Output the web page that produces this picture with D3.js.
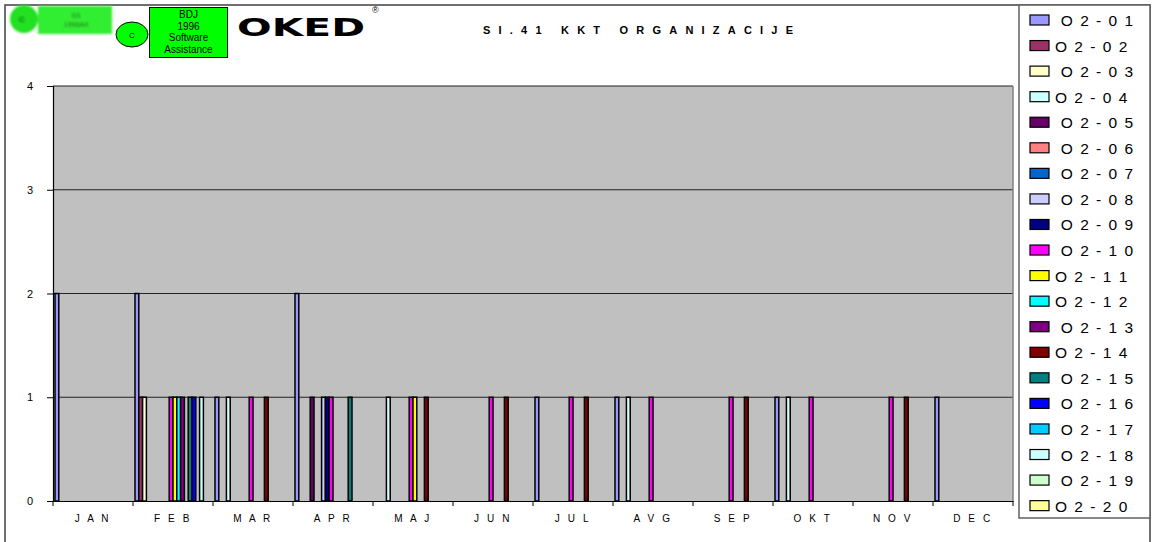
<!DOCTYPE html>
<html><head><meta charset="utf-8">
<script src="https://cdn.jsdelivr.net/npm/d3@7"></script>
<style>
body{margin:0;background:#fff;}
svg{display:block;font-family:"Liberation Sans",Arial,sans-serif;}
</style></head><body>
<svg id="chart" width="1167" height="542"></svg>
<script>
const months = ["JAN","FEB","MAR","APR","MAJ","JUN","JUL","AVG","SEP","OKT","NOV","DEC"];
const seriesNames = ["O2-01","O2-02","O2-03","O2-04","O2-05","O2-06","O2-07","O2-08","O2-09","O2-10",
                     "O2-11","O2-12","O2-13","O2-14","O2-15","O2-16","O2-17","O2-18","O2-19","O2-20"];
const legendLabels = [" O 2 - 0 1","O 2 - 0 2"," O 2 - 0 3","O 2 - 0 4"," O 2 - 0 5"," O 2 - 0 6"," O 2 - 0 7",
                      " O 2 - 0 8"," O 2 - 0 9"," O 2 - 1 0","O 2 - 1 1","O 2 - 1 2"," O 2 - 1 3","O 2 - 1 4",
                      " O 2 - 1 5"," O 2 - 1 6"," O 2 - 1 7"," O 2 - 1 8"," O 2 - 1 9","O 2 - 2 0"];
const yTicks = [0,1,2,3,4];
const title = "SI.41 KKT ORGANIZACIJE";

// values per series, one per month (JAN..DEC)
const o201 = [2,2,1,2,0,0,1,1,0,1,0,1];
const o202 = [0,1,0,0,0,0,0,0,0,0,0,0];
const o203 = [0,1,0,0,0,0,0,0,0,0,0,0];
const o204 = [0,0,1,0,1,0,0,1,0,1,0,0];
const o205 = [0,0,0,1,0,0,0,0,0,0,0,0];
const o206 = [0,0,0,0,0,0,0,0,0,0,0,0];
const o207 = [0,0,0,0,0,0,0,0,0,0,0,0];
const o208 = [0,0,0,1,0,0,0,0,0,0,0,0];
const o209 = [0,0,0,1,0,0,0,0,0,0,0,0];
const o210 = [0,1,1,1,1,1,1,1,1,1,1,0];
const o211 = [0,1,0,0,1,0,0,0,0,0,0,0];
const o212 = [0,1,0,0,0,0,0,0,0,0,0,0];
const o213 = [0,1,0,0,0,0,0,0,0,0,0,0];
const o214 = [0,0,1,0,1,1,1,0,1,0,1,0];
const o215 = [0,1,0,1,0,0,0,0,0,0,0,0];
const o216 = [0,1,0,0,0,0,0,0,0,0,0,0];
const o217 = [0,0,0,0,0,0,0,0,0,0,0,0];
const o218 = [0,1,0,0,0,0,0,0,0,0,0,0];
const o219 = [0,0,0,0,0,0,0,0,0,0,0,0];
const o220 = [0,0,0,0,0,0,0,0,0,0,0,0];
const seriesValues = [o201,o202,o203,o204,o205,o206,o207,o208,o209,o210,
                      o211,o212,o213,o214,o215,o216,o217,o218,o219,o220];

const colors = ["#9999FF","#993366","#FFFFCC","#CCFFFF","#660066","#FF8080","#0066CC","#CCCCFF","#000080","#FF00FF",
                "#FFFF00","#00FFFF","#800080","#800000","#008080","#0000FF","#00CCFF","#CCFFFF","#CCFFCC","#FFFF99"];

const svg = d3.select("#chart");
const plot = {left:53, right:1013, top:86, bottom:501};

const x0 = d3.scaleBand().domain(months).range([plot.left, plot.right]).padding(0);
const x1 = d3.scaleBand().domain(seriesNames).range([2, x0.bandwidth()-2]).padding(0);
const y = d3.scaleLinear().domain([0,4]).range([plot.bottom, plot.top]);

// defs
const defs = svg.append("defs");
defs.append("filter").attr("id","blur").append("feGaussianBlur").attr("stdDeviation",1.1);

// outer frame
svg.append("rect").attr("x",5).attr("y",5).attr("width",1145).attr("height",620)
  .attr("fill","none").attr("stroke","#404040").attr("stroke-width",1.5);

// plot background
svg.append("rect").attr("x",plot.left).attr("y",plot.top)
  .attr("width",plot.right-plot.left).attr("height",plot.bottom-plot.top)
  .attr("fill","#C0C0C0");

// gridlines
svg.append("g").selectAll("line").data(yTicks.filter(d=>d>0)).join("line")
  .attr("x1",plot.left).attr("x2",plot.right)
  .attr("y1",d=>y(d)).attr("y2",d=>y(d))
  .attr("stroke","#222").attr("stroke-width",1);

// right border of plot
svg.append("line").attr("x1",plot.right).attr("x2",plot.right).attr("y1",plot.top).attr("y2",plot.bottom)
  .attr("stroke","#808080").attr("stroke-width",1.5);

// bars
const bars = [];
months.forEach((m,mi)=>{
  seriesNames.forEach((s,si)=>{
    const v = seriesValues[si][mi];
    if(v>0) bars.push({m, s, si, v});
  });
});
svg.append("g").selectAll("rect").data(bars).join("rect")
  .attr("x",d=>x0(d.m)+x1(d.s))
  .attr("y",d=>y(d.v))
  .attr("width",x1.bandwidth())
  .attr("height",d=>y(0)-y(d.v))
  .attr("fill",d=>colors[d.si])
  .attr("stroke","#000").attr("stroke-width",1.5);

// y axis
const yAxis = d3.axisLeft(y).tickValues(yTicks).tickSize(6).tickPadding(14).tickFormat(d3.format("d"));
const gy = svg.append("g").attr("transform",`translate(${plot.left},0)`).call(yAxis);
gy.select(".domain").attr("stroke","#000").attr("stroke-width",1.2);
gy.selectAll(".tick line").attr("stroke","#000");
gy.selectAll("text").attr("font-size",11).attr("font-family","Liberation Sans, Arial, sans-serif").attr("fill","#000");

// x axis
const xAxis = d3.axisBottom(x0).tickSize(0).tickPadding(14).tickFormat(d=>d.split("").join(" "));
const gx = svg.append("g").attr("transform",`translate(0,${plot.bottom})`).call(xAxis);
gx.select(".domain").attr("stroke","#000").attr("stroke-width",1.2);
gx.selectAll("text").attr("font-size",10).attr("letter-spacing","2.6px")
  .attr("font-family","Liberation Sans, Arial, sans-serif").attr("fill","#000");
// category boundary ticks
gx.append("g").selectAll("line").data(months.concat(["_end"])).join("line")
  .attr("x1",(d,i)=>plot.left+i*x0.step()).attr("x2",(d,i)=>plot.left+i*x0.step())
  .attr("y1",0).attr("y2",5).attr("stroke","#000");

// title
svg.append("text").attr("x",638).attr("y",34).attr("text-anchor","middle")
  .attr("font-size",11).attr("font-weight","bold")
  .attr("textLength",310).attr("lengthAdjust","spacing")
  .text(title);

// legend
const lg = svg.append("g");
lg.append("rect").attr("x",1019).attr("y",5).attr("width",131).attr("height",513)
  .attr("fill","#fff").attr("stroke","#606060").attr("stroke-width",1.5);
const items = lg.selectAll("g.item").data(seriesNames).join("g").attr("class","item")
  .attr("transform",(d,i)=>`translate(0,${20+i*25.56})`);
items.append("rect").attr("x",1030).attr("y",-5).attr("width",19).attr("height",10)
  .attr("fill",(d,i)=>colors[i]).attr("stroke","#000").attr("stroke-width",1.2);
items.append("text").attr("x",1055).attr("y",6)
  .attr("font-size",15.5).attr("letter-spacing","1.5px")
  .style("white-space","pre").attr("xml:space","preserve")
  .text((d,i)=>legendLabels[i]);

// logos
const l1 = svg.append("g").attr("filter","url(#blur)");
l1.append("rect").attr("x",38).attr("y",6).attr("width",74).attr("height",28).attr("fill","#33ee33");
l1.append("circle").attr("cx",24).attr("cy",19).attr("r",14).attr("fill","#22e022");
l1.append("text").attr("x",22).attr("y",22).attr("font-size",8).attr("text-anchor","middle").text("C");
l1.append("text").attr("x",76).attr("y",18).attr("font-size",7).attr("text-anchor","middle").attr("fill","#226622").text("SS");
l1.append("text").attr("x",76).attr("y",27).attr("font-size",7).attr("text-anchor","middle").attr("fill","#226622").text("1996Art");

const l2 = svg.append("g");
l2.append("ellipse").attr("cx",132).attr("cy",34.5).attr("rx",16).attr("ry",12.5)
  .attr("fill","#00FF00").attr("stroke","#000").attr("stroke-width",1);
l2.append("text").attr("x",132).attr("y",37.5).attr("font-size",8).attr("text-anchor","middle").text("C");
l2.append("rect").attr("x",149.5).attr("y",7.5).attr("width",78).attr("height",50)
  .attr("fill","#00FF00").attr("stroke","#000").attr("stroke-width",1);
["BDJ","1996","Software","Assistance"].forEach((t,i)=>{
  l2.append("text").attr("x",188.5).attr("y",18+i*11.7).attr("font-size",10)
    .attr("text-anchor","middle").text(t);
});
svg.append("text").attr("x",237).attr("y",35.5).attr("font-size",25).attr("font-weight","900")
  .attr("font-family","DejaVu Sans, sans-serif")
  .attr("textLength",128).attr("lengthAdjust","spacingAndGlyphs").text("OKED");
svg.append("text").attr("x",372).attr("y",13).attr("font-size",9).text("®");
</script>
</body></html>
